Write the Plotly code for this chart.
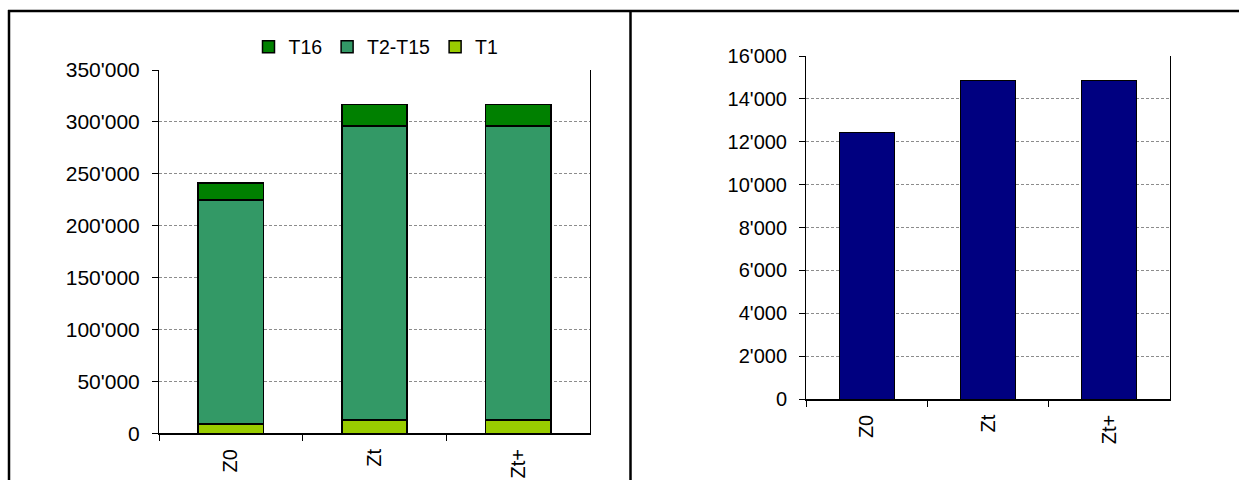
import plotly.graph_objects as go

# Categories shared by both panels
categories = ["Z0", "Zt", "Zt+"]

# Left panel: stacked components
t1_values = [9000, 13000, 13000]
t2_t15_values = [216000, 283000, 283000]
t16_values = [16000, 21000, 21000]

# Right panel: single series
total_values = [12450, 14880, 14880]

left_ticks = [0, 50000, 100000, 150000, 200000, 250000, 300000, 350000]
right_ticks = [0, 2000, 4000, 6000, 8000, 10000, 12000, 14000, 16000]

W, H = 1239, 480
FONT = "Liberation Sans, Arial, sans-serif"


def px_x(v):
    return v / W


def px_y(v):
    return 1 - v / H


fig = go.Figure()

stack = [
    ("T1", t1_values, "#99CC00"),
    ("T2-T15", t2_t15_values, "#339966"),
    ("T16", t16_values, "#008000"),
]
for name, vals, color in stack:
    fig.add_trace(go.Bar(
        x=categories, y=vals, name=name, width=0.455,
        marker=dict(color=color, line=dict(color="black", width=1.5)),
        xaxis="x", yaxis="y",
    ))

fig.add_trace(go.Bar(
    x=categories, y=total_values, name="Total", width=0.455, showlegend=False,
    marker=dict(color="#000080", line=dict(color="black", width=1)),
    xaxis="x2", yaxis="y2",
))

grid = dict(showgrid=True, gridcolor="#8c8c8c", griddash="3px,2px", gridwidth=1)


def yaxis_style(size):
    return dict(
        showline=True, linecolor="black", linewidth=1, mirror=True,
        ticks="outside", ticklen=6, tickcolor="black",
        tickformat=",d", zeroline=False, ticklabelstandoff=8,
        automargin=False,
        tickfont=dict(family=FONT, size=size, color="black"), **grid,
    )


def xaxis_style(size):
    return dict(
        showline=True, linecolor="black", linewidth=1.5,
        ticks="outside", ticklen=6, tickcolor="black", tickson="boundaries",
        tickangle=-90, showgrid=False, ticklabelstandoff=6,
        automargin=False,
        tickfont=dict(family=FONT, size=size, color="black"),
    )


fig.update_layout(
    width=W, height=H,
    margin=dict(l=0, r=0, t=0, b=0, autoexpand=False),
    paper_bgcolor="white", plot_bgcolor="white",
    barmode="stack",
    separators=".'",
    font=dict(family=FONT, size=20, color="black"),
    xaxis=dict(domain=[px_x(159), px_x(590)], anchor="y", **xaxis_style(20)),
    yaxis=dict(domain=[px_y(433.3), px_y(70)], anchor="x",
               range=[0, 350000], tickvals=left_ticks, **yaxis_style(21)),
    xaxis2=dict(domain=[px_x(806), px_x(1170)], anchor="y2", **xaxis_style(20)),
    yaxis2=dict(domain=[px_y(399), px_y(56)], anchor="x2",
                range=[0, 16000], tickvals=right_ticks, **yaxis_style(20)),
    legend=dict(
        orientation="h", traceorder="reversed",
        xref="container", yref="container",
        x=px_x(376), y=px_y(47), xanchor="center", yanchor="middle",
        font=dict(family=FONT, size=19.5, color="black"),
        bgcolor="rgba(0,0,0,0)", itemwidth=30,
    ),
    showlegend=True,
    shapes=[
        dict(type="line", xref="paper", yref="paper",
             x0=px_x(8), x1=1, y0=px_y(11), y1=px_y(11),
             line=dict(color="black", width=2.5)),
        dict(type="line", xref="paper", yref="paper",
             x0=px_x(9), x1=px_x(9), y0=0, y1=px_y(10),
             line=dict(color="black", width=2.5)),
        dict(type="line", xref="paper", yref="paper",
             x0=px_x(630.5), x1=px_x(630.5), y0=0, y1=px_y(10),
             line=dict(color="black", width=2.5)),
    ],
)

# Page body without the browser's default margin so the figure sits at 0,0
fig.write_html(
    "out.html",
    post_script="document.body.style.margin='0';document.body.style.overflow='hidden';",
)
